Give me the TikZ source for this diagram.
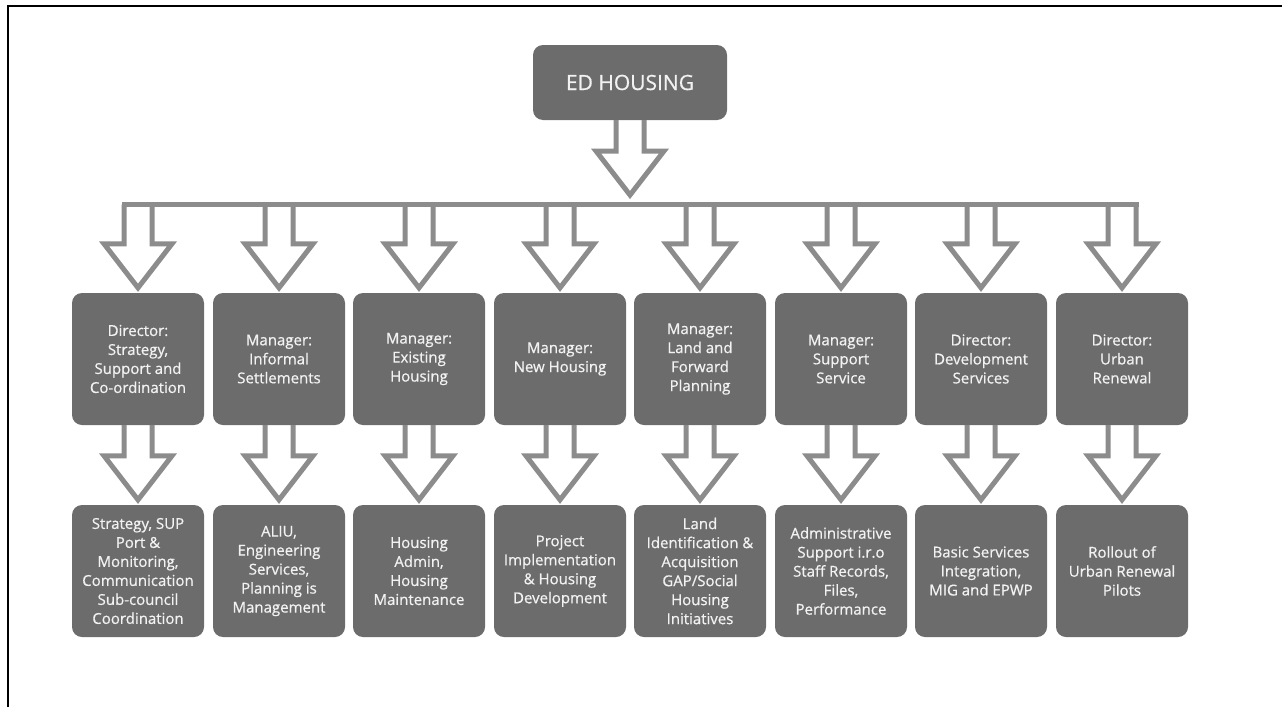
\documentclass[tikz,border=0pt]{standalone}
\usepackage{xcolor}
\usepackage{fontspec}
\setmainfont{Open Sans}[BoldFont=Open Sans, BoldFeatures={FakeBold=0.7}]
\usetikzlibrary{calc}

\definecolor{boxgray}{HTML}{6C6C6C}
\definecolor{linegray}{HTML}{8C8C8C}

% hollow down arrow: #1 top of shaft, #2 point the tip rests on
\newcommand{\hollowdown}[2]{%
    \draw[hollow] ($(#1)+(-14,0)$) -- ($(#2)+(-14,-49)$) -- ++(-20,0) -- ($(#2)+(0,-5)$)
        -- ++(34,-44) -- ++(-20,0) -- ($(#1)+(14,0)$);}

\begin{document}
\begin{tikzpicture}[x=1pt,y=-1pt]
        % Define styles
        \tikzset{
            unit/.style={rectangle, rounded corners=10pt, fill=boxgray, text=white!95!black, minimum width=132pt, minimum height=132pt, align=center, font=\fontsize{15}{19}\selectfont\bfseries},
            top/.style={unit, minimum width=194pt, minimum height=75pt, font=\fontsize{21}{24}\selectfont\bfseries},
            hollow/.style={draw=linegray, line width=5pt, line join=miter},
            frame/.style={line width=2pt}
        }
        \useasboundingbox (0,0) rectangle (1282,707);
        \draw[frame] (8,707) -- (8,6) -- (1282,6);

        % Nodes
        \node[top] (head_node) at (630,82.5) {ED HOUSING};
        \coordinate (bar) at (630,204.5);
        \coordinate (head_tip) at (630,200);

        \node[unit] (unit_node_1) at (138,359) {Director:\\Strategy,\\Support and\\Co-ordination};
        \node[unit] (unit_node_2) at (279,359) {Manager:\\Informal\\Settlements};
        \node[unit] (unit_node_3) at (419,359) {Manager:\\Existing\\Housing};
        \node[unit] (unit_node_4) at (560,359) {Manager:\\New Housing};
        \node[unit] (unit_node_5) at (700,359) {Manager:\\Land and\\Forward\\Planning};
        \node[unit] (unit_node_6) at (841,359) {Manager:\\Support\\Service};
        \node[unit] (unit_node_7) at (981,359) {Director:\\Development\\Services};
        \node[unit] (unit_node_8) at (1122,359) {Director:\\Urban\\Renewal};

        \node[unit] (task_node_1) at (138,571) {Strategy, SUP\\Port \&\\Monitoring,\\Communication\\Sub-council\\Coordination};
        \node[unit] (task_node_2) at (279,571) {ALIU,\\Engineering\\Services,\\Planning is\\Management};
        \node[unit] (task_node_3) at (419,571) {Housing\\Admin,\\Housing\\Maintenance};
        \node[unit] (task_node_4) at (560,571) {Project\\Implementation\\\& Housing\\Development};
        \node[unit] (task_node_5) at (700,571) {Land\\Identification \&\\Acquisition\\GAP/Social\\Housing\\Initiatives};
        \node[unit] (task_node_6) at (841,571) {Administrative\\Support i.r.o\\Staff Records,\\Files,\\Performance};
        \node[unit] (task_node_7) at (981,571) {Basic Services\\Integration,\\MIG and EPWP};
        \node[unit] (task_node_8) at (1122,571) {Rollout of\\Urban Renewal\\Pilots};

        % Arrows
        \hollowdown{head_node.south}{head_tip}
        \draw[hollow, line cap=rect] ($(unit_node_1.north |- bar)+(-14,0)$) -- ($(unit_node_8.north |- bar)+(14,0)$);
        \hollowdown{unit_node_1.north |- bar}{unit_node_1.north}
        \hollowdown{unit_node_2.north |- bar}{unit_node_2.north}
        \hollowdown{unit_node_3.north |- bar}{unit_node_3.north}
        \hollowdown{unit_node_4.north |- bar}{unit_node_4.north}
        \hollowdown{unit_node_5.north |- bar}{unit_node_5.north}
        \hollowdown{unit_node_6.north |- bar}{unit_node_6.north}
        \hollowdown{unit_node_7.north |- bar}{unit_node_7.north}
        \hollowdown{unit_node_8.north |- bar}{unit_node_8.north}

        \hollowdown{unit_node_1.south}{task_node_1.north}
        \hollowdown{unit_node_2.south}{task_node_2.north}
        \hollowdown{unit_node_3.south}{task_node_3.north}
        \hollowdown{unit_node_4.south}{task_node_4.north}
        \hollowdown{unit_node_5.south}{task_node_5.north}
        \hollowdown{unit_node_6.south}{task_node_6.north}
        \hollowdown{unit_node_7.south}{task_node_7.north}
        \hollowdown{unit_node_8.south}{task_node_8.north}
\end{tikzpicture}
\end{document}
